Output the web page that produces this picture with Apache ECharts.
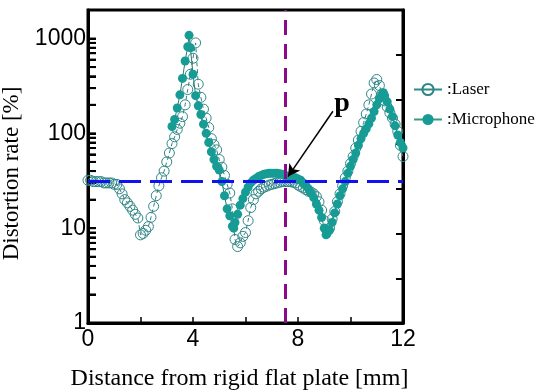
<!DOCTYPE html>
<html>
<head>
<meta charset="utf-8">
<script src="https://cdn.jsdelivr.net/npm/echarts@6/dist/echarts.min.js"></script>
<style>
  html, body { margin: 0; padding: 0; background: #fff; }
  #chart { width: 547px; height: 392px; }
</style>
</head>
<body>
<div id="chart"></div>
<script>
// distance [mm] / distortion rate [%]
const laserX = [0.0, 0.1, 0.2, 0.3, 0.4, 0.5, 0.6, 0.7, 0.8, 0.9, 1.0, 1.1, 1.2, 1.3, 1.4, 1.5, 1.6, 1.7, 1.8, 1.9,
  2.0, 2.1, 2.2, 2.3, 2.4, 2.5, 2.6, 2.7, 2.8, 2.9, 3.0, 3.1, 3.2, 3.3, 3.4, 3.5, 3.6, 3.7, 3.8, 3.9,
  4.0, 4.1, 4.2, 4.3, 4.4, 4.5, 4.6, 4.7, 4.8, 4.9, 5.0, 5.1, 5.2, 5.3, 5.4, 5.5, 5.6, 5.7, 5.8, 5.9,
  6.0, 6.1, 6.2, 6.3, 6.4, 6.5, 6.6, 6.7, 6.8, 6.9, 7.0, 7.1, 7.2, 7.3, 7.4, 7.5, 7.6, 7.7, 7.8, 7.9,
  8.0, 8.1, 8.2, 8.3, 8.4, 8.5, 8.6, 8.7, 8.8, 8.9, 9.0, 9.1, 9.2, 9.3, 9.4, 9.5, 9.6, 9.7, 9.8, 9.9,
  10.0, 10.1, 10.2, 10.3, 10.4, 10.5, 10.6, 10.7, 10.8, 10.9, 11.0, 11.1, 11.2, 11.3, 11.4, 11.5, 11.6, 11.7, 11.8, 11.9, 12.0]
const laserY = [32, 32, 31, 31, 31, 31, 30, 30, 30, 30, 29, 29, 26, 23, 20, 18.5, 17, 15.5, 14, 12.8,
  8.5, 8.8, 9.5, 10.4, 13, 17, 22, 28, 34, 40, 50, 62, 78, 92, 110, 128, 150, 200, 290, 420,
  620, 900, 330, 240, 180, 145, 115, 88, 76, 67, 53, 44, 36, 29, 23.5, 16, 7.6, 6.4, 7, 8.2,
  9, 12, 16.5, 20, 23, 24.5, 26, 27, 27.7, 28.5, 29, 29.5, 30, 30.5, 31, 31, 31, 31, 30.5, 30,
  28.5, 27.5, 26.5, 25.5, 24.5, 24, 23, 21.5, 19, 15.5, 12, 9.5, 10, 12.5, 15, 19, 23, 28, 34, 40,
  48, 57, 70, 85, 105, 130, 160, 200, 260, 340, 370, 320, 260, 220, 190, 165, 145, 125, 105, 75, 57]

const micX = [3.2, 3.3, 3.4, 3.5, 3.6, 3.7, 3.8, 3.85, 3.9, 4.0, 4.1, 4.2, 4.3, 4.4, 4.5, 4.6, 4.7, 4.8, 4.9,
  5.0, 5.1, 5.2, 5.3, 5.4, 5.5, 5.55, 5.6, 5.7, 5.8, 5.9, 6.0, 6.1, 6.2, 6.3, 6.4, 6.5, 6.6, 6.7, 6.8, 6.9,
  7.0, 7.1, 7.2, 7.3, 7.4, 7.5, 7.6, 7.7, 7.8, 7.9, 8.0, 8.1, 8.2, 8.3, 8.4, 8.5, 8.6, 8.7, 8.8, 8.9,
  9.0, 9.07, 9.1, 9.2, 9.3, 9.4, 9.5, 9.6, 9.7, 9.8, 9.9, 10.0, 10.1, 10.2, 10.3, 10.4, 10.5, 10.6, 10.7, 10.8, 10.9,
  11.0, 11.1, 11.2, 11.25, 11.3, 11.4, 11.5, 11.6, 11.7, 11.8, 11.9, 12.0]
const micY = [118, 140, 185, 255, 380, 580, 820, 1080, 800, 420, 250, 195, 158, 125, 100, 80, 64, 53, 45,
  41, 31, 22, 16, 13.5, 10.5, 10, 11.5, 14, 17.5, 20.5, 24, 27, 30, 32, 33.5, 35, 36, 37, 37.5, 38,
  38, 38, 38, 37.5, 37, 36, 35.5, 35, 34.5, 34, 33, 32, 30, 28, 26, 23.5, 21, 18, 15.5, 13,
  10, 8.5, 8.7, 9.5, 11.5, 14.5, 18, 22, 26, 31, 38, 45, 53, 62, 75, 88, 100, 112, 126, 145, 170,
  200, 232, 258, 268, 250, 215, 180, 150, 120, 96, 80, 70]

const refLevel = 31      // blue dashed line
const refDistance = 7.5  // purple dashed line
const arrowFrom = [9.33, 171]
const arrowTo = [7.62, 35]
const pLabelAt = [9.68, 205]

const yLabelValues = [1, 10, 100, 1000]
const yTickValues = [1, 2, 3, 4, 5, 6, 7, 8, 9, 10, 20, 30, 40, 50, 60, 70, 80, 90,
  100, 200, 300, 400, 500, 600, 700, 800, 900, 1000]

const sans = 'Liberation Sans'
const serif = 'Liberation Serif'

const chart = echarts.init(document.getElementById('chart'))

const zip = (xs, ys) => xs.map((x, i) => [x, ys[i]])

chart.setOption({
  animation: false,
  grid: {
    left: 88, right: 144, top: 10, bottom: 69, outerBoundsMode: 'none',
    show: true, borderColor: '#000', borderWidth: 3, backgroundColor: 'transparent'
  },
  legend: {
    orient: 'vertical',
    left: 408,
    top: 76,
    itemWidth: 28,
    itemHeight: 14,
    itemGap: 13,
    textStyle: { fontFamily: serif, fontSize: 17, color: '#000' },
    data: [
      { name: ':Laser', lineStyle: { type: 'solid', width: 2, color: '#2b8a8a' } },
      { name: ':Microphone', lineStyle: { type: 'solid', width: 2, color: '#3a9a7a' } }
    ]
  },
  xAxis: {
    type: 'value',
    min: 0,
    max: 12,
    interval: 2,
    name: 'Distance from rigid flat plate [mm]',
    nameLocation: 'middle',
    nameGap: 44,
    nameTextStyle: { fontFamily: serif, fontSize: 24, color: '#000', padding: [0, 12, 0, 0] },
    axisLine: { onZero: false, lineStyle: { color: '#000', width: 3 } },
    axisTick: { inside: true, length: 6, lineStyle: { color: '#000', width: 1.5 } },
    axisLabel: {
      fontFamily: sans, fontSize: 23, color: '#000', margin: 5,
      formatter: v => (v % 4 === 0 ? String(v) : '')
    },
    splitLine: { show: false }
  },
  yAxis: [
    {
      type: 'log',
      min: 1,
      max: 2000,
      name: 'Distortion rate [%]',
      nameLocation: 'middle',
      nameGap: 42,
      nameTextStyle: { fontFamily: serif, fontSize: 23, color: '#000', padding: [0, 14, 0, 0] },
      axisLine: { show: true, onZero: false, lineStyle: { color: '#000', width: 3 } },
      axisTick: {
        show: true, inside: true, length: 8, interval: 0,
        customValues: yTickValues,
        lineStyle: { color: '#000', width: 2 }
      },
      axisLabel: {
        fontFamily: sans, fontSize: 23, color: '#000', margin: 2,
        formatter: v => (yLabelValues.indexOf(v) >= 0 ? String(v) : '')
      },
      splitLine: { show: false }
    },
    {
      type: 'value',
      position: 'right',
      min: 0,
      max: 7,
      interval: 1,
      axisLine: { show: true, onZero: false, lineStyle: { color: '#000', width: 3 } },
      axisTick: { show: true, inside: true, length: 7, lineStyle: { color: '#000', width: 2 } },
      axisLabel: { show: false },
      splitLine: { show: false }
    }
  ],
  series: [
    {
      // ticks of the log axis (1..9 in each decade), drawn through the axis scale
      type: 'custom',
      data: yTickValues.map(v => [0, v]),
      renderItem: (params, api) => {
        const p = api.coord([0, api.value(1)])
        return {
          type: 'line',
          shape: { x1: p[0], y1: p[1], x2: p[0] + 8, y2: p[1] },
          style: { stroke: '#000', lineWidth: 2 }
        }
      }
    },
    {
      name: ':Laser',
      type: 'line',
      data: zip(laserX, laserY),
      symbol: 'circle',
      symbolSize: 10,
      itemStyle: { color: 'rgba(0,0,0,0)', borderColor: '#2f8585', borderWidth: 1 },
      lineStyle: { color: '#2f7c7c', width: 1, type: [4, 3] },
      z: 3,
      markLine: {
        silent: true,
        symbol: 'none',
        label: { show: false },
        data: [
          [
            { coord: [0, refLevel], lineStyle: { color: '#1212f0', width: 3, type: [22, 9] } },
            { coord: [12, refLevel] }
          ],
          [
            { coord: [refDistance, 1], lineStyle: { color: '#8b0a8b', width: 3, type: [15, 9] } },
            { coord: [refDistance, 2000] }
          ]
        ]
      }
    },
    {
      name: ':Microphone',
      type: 'line',
      data: zip(micX, micY),
      symbol: 'circle',
      symbolSize: 9,
      itemStyle: { color: '#169c95', borderColor: '#169c95', borderWidth: 0 },
      lineStyle: { color: '#2b7a70', width: 1 },
      z: 4,
      markLine: {
        silent: true,
        symbol: ['none', 'arrow'],
        symbolSize: [10, 12],
        label: { show: false },
        lineStyle: { color: '#000', width: 1.5, type: 'solid' },
        data: [[{ coord: arrowFrom }, { coord: arrowTo }]],
        z: 6
      },
      markPoint: {
        silent: true,
        symbol: 'circle',
        symbolSize: 1,
        itemStyle: { color: 'rgba(0,0,0,0)' },
        label: {
          show: true,
          position: 'inside',
          formatter: 'p',
          fontFamily: serif,
          fontWeight: 'bold',
          fontSize: 28,
          color: '#000'
        },
        data: [{ coord: pLabelAt }]
      }
    }
  ]
})
</script>
</body>
</html>
